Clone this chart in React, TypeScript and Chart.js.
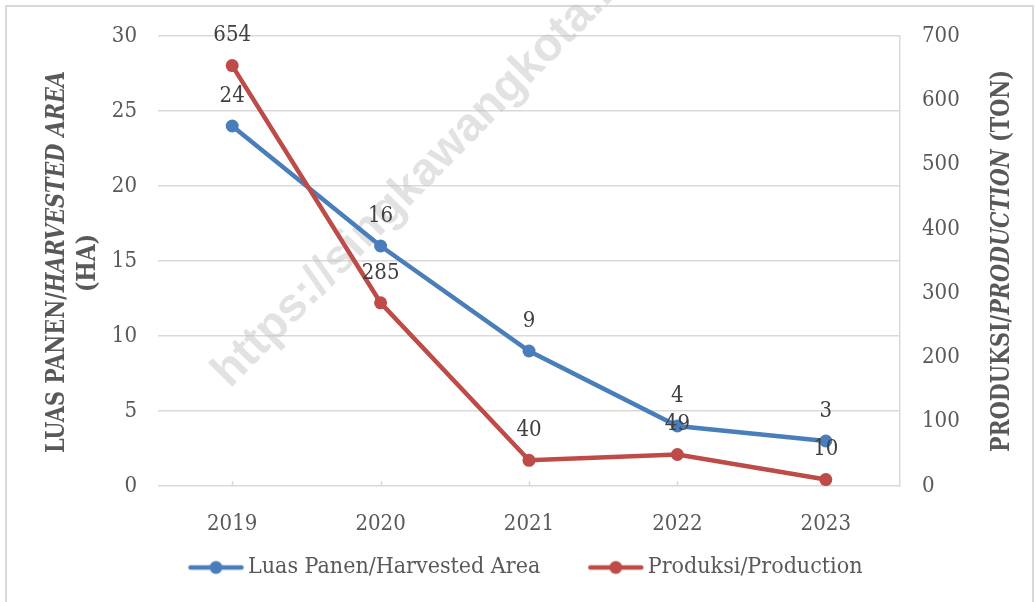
import React, { useEffect, useRef } from "react";
import { Chart, registerables } from "chart.js";

Chart.register(...registerables);

const years = ["2019", "2020", "2021", "2022", "2023"];
const harvestedArea = [24, 16, 9, 4, 3];
const production = [654, 285, 40, 49, 10];
const seriesNames = ["Luas Panen/Harvested Area", "Produksi/Production"];
const leftAxisRange = [0, 30, 5];
const rightAxisRange = [0, 700, 100];
const leftTitleLine1: [string, boolean][] = [["LUAS PANEN/", false], ["HARVESTED AREA", true]];
const leftTitleLine2: [string, boolean][] = [["(HA)", false]];
const rightTitleLine: [string, boolean][] = [["PRODUKSI/", false], ["PRODUCTION", true], [" (TON)", false]];
const watermarkText = "https://singkawangkota.bps.go.id";

const FONT = '"DejaVu Serif Condensed", "DejaVu Serif", serif';
const BLUE = "#4A7EBB";
const RED = "#BE4B48";
const TEXT = "#595959";
const GRID = "#D9D9D9";

function makeLegendMarker(color: string) {
  const c = document.createElement("canvas");
  c.width = 108;
  c.height = 20;
  const g = c.getContext("2d")!;
  g.strokeStyle = color;
  g.lineWidth = 4.5;
  g.lineCap = "round";
  g.beginPath();
  g.moveTo(53, 10);
  g.lineTo(104, 10);
  g.stroke();
  g.fillStyle = color;
  g.beginPath();
  g.arc(78.5, 10, 6.5, 0, Math.PI * 2);
  g.fill();
  return c;
}

function drawRichRotated(
  ctx: CanvasRenderingContext2D,
  parts: [string, boolean][],
  cx: number,
  cy: number,
  size: number,
  targetLen: number
) {
  ctx.save();
  ctx.translate(cx, cy);
  ctx.rotate(-Math.PI / 2);
  const fonts = parts.map(([, it]) => `${it ? "italic " : ""}bold ${size}px ${FONT}`);
  const widths = parts.map(([t], i) => {
    ctx.font = fonts[i];
    return ctx.measureText(t).width;
  });
  const total = widths.reduce((a, b) => a + b, 0);
  ctx.scale(targetLen / total, 1);
  ctx.fillStyle = TEXT;
  ctx.textBaseline = "middle";
  ctx.textAlign = "left";
  let x = -total / 2;
  parts.forEach(([t], i) => {
    ctx.font = fonts[i];
    ctx.fillText(t, x, 0);
    x += widths[i];
  });
  ctx.restore();
}

const decorPlugin = {
  id: "decor",
  beforeDraw(chart: any) {
    const ctx = chart.ctx as CanvasRenderingContext2D;
    ctx.save();
    ctx.fillStyle = "#FFFFFF";
    ctx.fillRect(0, 0, chart.width, chart.height);
    ctx.strokeStyle = GRID;
    ctx.lineWidth = 2;
    ctx.strokeRect(6, 6, 1027, 640);
    ctx.restore();
  },
  beforeDatasetsDraw(chart: any) {
    const ctx = chart.ctx as CanvasRenderingContext2D;
    ctx.save();
    // small inside tick marks on the category axis
    const xs = chart.scales.x;
    const bottom = chart.chartArea.bottom;
    ctx.strokeStyle = GRID;
    ctx.lineWidth = 1.5;
    years.forEach((_, i) => {
      const px = Math.round(xs.getPixelForTick(i)) + 0.5;
      ctx.beginPath();
      ctx.moveTo(px, bottom - 5);
      ctx.lineTo(px, bottom);
      ctx.stroke();
    });
    ctx.restore();

    ctx.save();
    ctx.translate(230, 389);
    ctx.rotate((-45.5 * Math.PI) / 180);
    ctx.font = 'bold 47px "Liberation Sans", Arial, sans-serif';
    ctx.fillStyle = "rgba(190,190,190,0.45)";
    ctx.textBaseline = "alphabetic";
    ctx.textAlign = "left";
    ctx.fillText(watermarkText, 0, 0);
    ctx.restore();
  },
  afterDatasetsDraw(chart: any) {
    const ctx = chart.ctx as CanvasRenderingContext2D;
    ctx.save();
    ctx.font = `22px ${FONT}`;
    ctx.fillStyle = "#404040";
    ctx.textAlign = "center";
    ctx.textBaseline = "middle";
    chart.data.datasets.forEach((ds: any, i: number) => {
      const meta = chart.getDatasetMeta(i);
      meta.data.forEach((pt: any, j: number) => {
        ctx.fillText(String(ds.data[j]), pt.x, pt.y - 30);
      });
    });
    ctx.restore();
  },
  afterDraw(chart: any) {
    const ctx = chart.ctx as CanvasRenderingContext2D;
    drawRichRotated(ctx, leftTitleLine1, 57, 262, 26, 382);
    drawRichRotated(ctx, leftTitleLine2, 88, 263, 26, 58);
    drawRichRotated(ctx, rightTitleLine, 1002, 261, 26, 382);
  },
};

export default function App() {
  const ref = useRef<HTMLCanvasElement>(null);

  useEffect(() => {
    const canvas = ref.current!;
    const markers = [makeLegendMarker(BLUE), makeLegendMarker(RED)];
    const chart = new Chart(canvas, {
      type: "line",
      data: {
        labels: years,
        datasets: [
          {
            label: seriesNames[0],
            data: harvestedArea,
            yAxisID: "y",
            borderColor: BLUE,
            backgroundColor: BLUE,
            pointBackgroundColor: BLUE,
            pointBorderColor: BLUE,
            borderWidth: 4.5,
            pointRadius: 6.5,
            pointBorderWidth: 0,
            order: 1,
          },
          {
            label: seriesNames[1],
            data: production,
            yAxisID: "y1",
            borderColor: RED,
            backgroundColor: RED,
            pointBackgroundColor: RED,
            pointBorderColor: RED,
            borderWidth: 4.5,
            pointRadius: 6.5,
            pointBorderWidth: 0,
            order: 0,
          },
        ],
      },
      options: {
        responsive: false,
        animation: false,
        devicePixelRatio: 1,
        layout: { padding: { top: 36, left: 0, right: 26, bottom: 13 } },
        plugins: {
          tooltip: { enabled: false },
          legend: {
            position: "bottom",
            labels: {
              usePointStyle: true,
              pointStyleWidth: 90,
              padding: 6,
              color: TEXT,
              font: { family: FONT, size: 23 },
              generateLabels: (c: any) =>
                c.data.datasets.map((ds: any, i: number) => ({
                  text: ds.label,
                  fillStyle: ds.borderColor,
                  strokeStyle: ds.borderColor,
                  lineWidth: 0,
                  pointStyle: markers[i],
                  hidden: false,
                  datasetIndex: i,
                  fontColor: TEXT,
                })),
            },
          },
        },
        scales: {
          x: {
            offset: true,
            grid: { display: false },
            border: { display: false },
            ticks: { color: TEXT, font: { family: FONT, size: 22 }, padding: 17 },
            afterFit: (s: any) => {
              s.height = 64;
            },
          },
          y: {
            position: "left",
            min: leftAxisRange[0],
            max: leftAxisRange[1],
            ticks: { stepSize: leftAxisRange[2], color: TEXT, font: { family: FONT, size: 22 }, padding: 21 },
            grid: { color: GRID, lineWidth: 1.5, drawTicks: false },
            border: { display: false },
            afterFit: (s: any) => {
              s.width = 158;
            },
          },
          y1: {
            position: "right",
            min: rightAxisRange[0],
            max: rightAxisRange[1],
            ticks: { stepSize: rightAxisRange[2], color: TEXT, font: { family: FONT, size: 22 }, padding: 22 },
            grid: { drawOnChartArea: false, drawTicks: false },
            border: { display: true, color: GRID, width: 1.5 },
            afterFit: (s: any) => {
              s.width = 109;
            },
          },
        },
      },
      plugins: [decorPlugin],
    } as any);
    return () => chart.destroy();
  }, []);

  return (
    <div style={{ position: "fixed", left: 0, top: 0, width: 1035, height: 602, background: "#fff" }}>
      <canvas ref={ref} width={1035} height={602} style={{ display: "block" }} />
    </div>
  );
}
